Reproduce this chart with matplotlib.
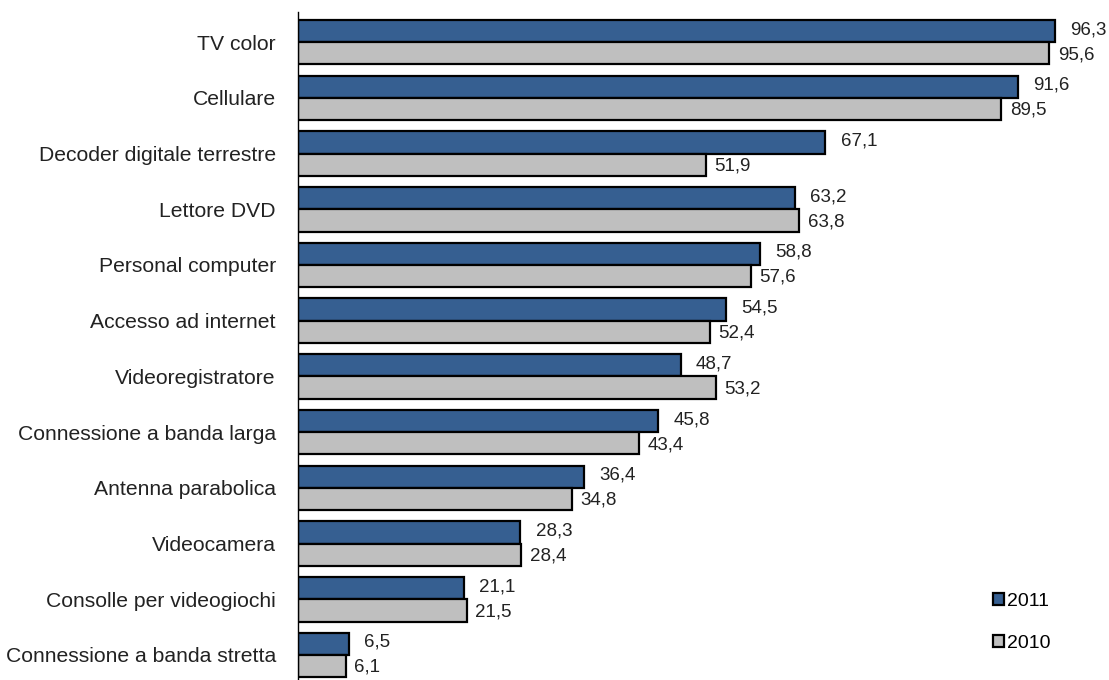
import matplotlib
matplotlib.use("Agg")
import matplotlib.pyplot as plt
from matplotlib import font_manager
from matplotlib.patches import Patch
import numpy as np

# Household goods ownership, % of families
categories = [
    "TV color", "Cellulare", "Decoder digitale terrestre", "Lettore DVD",
    "Personal computer", "Accesso ad internet", "Videoregistratore",
    "Connessione a banda larga", "Antenna parabolica", "Videocamera",
    "Consolle per videogiochi", "Connessione a banda stretta",
]
values_2011 = [96.3, 91.6, 67.1, 63.2, 58.8, 54.5, 48.7, 45.8, 36.4, 28.3, 21.1, 6.5]
values_2010 = [95.6, 89.5, 51.9, 63.8, 57.6, 52.4, 53.2, 43.4, 34.8, 28.4, 21.5, 6.1]

BLUE = "#365F91"
GRAY = "#BFBFBF"
TEXT = "#222222"

installed = {f.name for f in font_manager.fontManager.ttflist}
family = ["Liberation Sans Narrow", "Liberation Sans", "DejaVu Sans"]
family = [f for f in family if f in installed] or ["DejaVu Sans"]
plt.rcParams["font.family"] = family

fig = plt.figure(figsize=(11.09, 6.8), dpi=100)
ax = fig.add_axes([298 / 1109, 0.0, 786 / 1109, 668 / 680])

y = np.arange(len(categories))
h = 0.4
ax.barh(y - h / 2, values_2011, height=h, color=BLUE, edgecolor="black", linewidth=1.6)
ax.barh(y + h / 2, values_2010, height=h, color=GRAY, edgecolor="black", linewidth=1.6)

def fmt(v):
    return f"{v:.1f}".replace(".", ",")

for yi, v in zip(y, values_2011):
    ax.annotate(fmt(v), (v, yi - h / 2), xytext=(11, 1), textcoords="offset points",
                va="center", ha="left", fontsize=13.5, color=TEXT)
for yi, v in zip(y, values_2010):
    ax.annotate(fmt(v), (v, yi + h / 2), xytext=(6, -1), textcoords="offset points",
                va="center", ha="left", fontsize=13.5, color=TEXT)

ax.set_xlim(0, 100)
ax.set_ylim(11.45, -0.54)
ax.set_yticks(y)
ax.set_yticklabels(categories, fontsize=15.2, color=TEXT)
ax.tick_params(axis="y", length=0, pad=16)
ax.set_xticks([])
for s in ("top", "right", "bottom"):
    ax.spines[s].set_visible(False)
ax.spines["left"].set_linewidth(1.0)

handles = [Patch(facecolor=BLUE, edgecolor="black", linewidth=1.6, label="2011"),
           Patch(facecolor=GRAY, edgecolor="black", linewidth=1.6, label="2010")]
fig.legend(handles=handles, loc="upper left", bbox_to_anchor=(975 / 1109, 1 - 575 / 680),
           frameon=False, fontsize=14, handlelength=0.6, handleheight=0.6,
           handletextpad=0.15, labelspacing=1.3)

fig.savefig("out.png", dpi=100)
